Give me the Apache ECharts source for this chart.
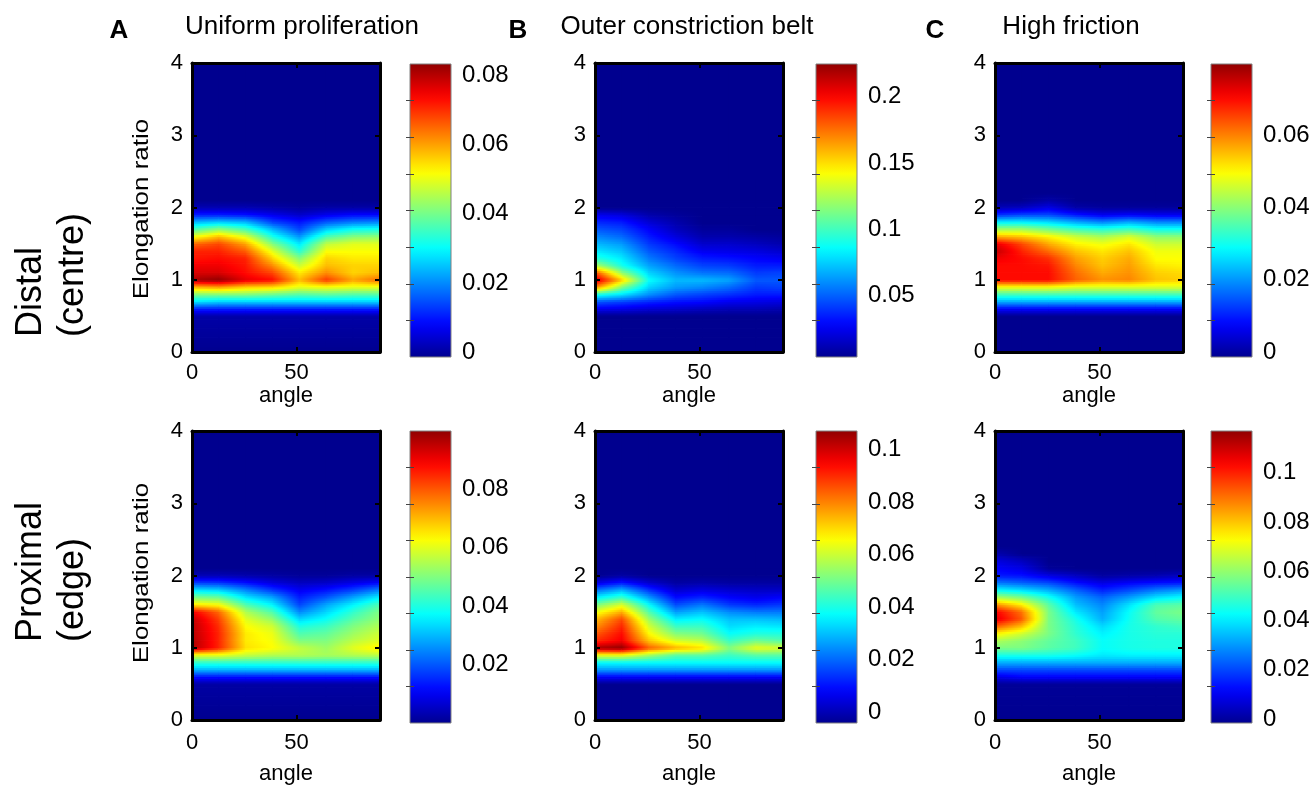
<!DOCTYPE html>
<html><head><meta charset="utf-8">
<script src="https://cdn.jsdelivr.net/npm/echarts@6/dist/echarts.min.js"></script>
<style>html,body{margin:0;padding:0;background:#fff}#c{width:1316px;height:790px}</style>
</head><body><div id="c"></div>
<script>
// ---------------- data ----------------
const angle = [0, 12.9, 25.7, 38.6, 51.4, 64.3, 77.1, 90];
const elongation = [0, 0.5, 0.6, 0.7, 0.8, 0.9, 1.0, 1.1, 1.2, 1.3, 1.4, 1.5, 1.6, 1.7, 1.8, 1.9, 2.0, 2.1, 2.2, 2.3, 2.4, 4];
const xTicks = [0, 50];
const yTicks = [0, 1, 2, 3, 4];
const colTitles = ['Uniform proliferation', 'Outer constriction belt', 'High friction'];
const colLetters = ['A', 'B', 'C'];
const rowTitles = ['Distal\n(centre)', 'Proximal\n(edge)'];
const yName = 'Elongation ratio';
const xName = 'angle';

// rows follow `elongation`, columns follow `angle`
const zDistalUniform = [
[0,0,0,0,0,0,0,0],
[0.002,0.002,0.002,0.002,0.002,0.002,0.002,0.002],
[0.012,0.012,0.012,0.012,0.012,0.012,0.012,0.012],
[0.029,0.027,0.027,0.027,0.027,0.027,0.027,0.027],
[0.042,0.042,0.042,0.040,0.038,0.039,0.038,0.038],
[0.058,0.060,0.056,0.055,0.050,0.051,0.050,0.050],
[0.081,0.083,0.076,0.073,0.058,0.069,0.060,0.065],
[0.077,0.077,0.073,0.068,0.054,0.062,0.056,0.058],
[0.075,0.075,0.072,0.062,0.048,0.058,0.056,0.056],
[0.072,0.073,0.071,0.056,0.042,0.056,0.054,0.054],
[0.071,0.071,0.066,0.050,0.034,0.052,0.052,0.052],
[0.065,0.068,0.060,0.042,0.029,0.047,0.050,0.050],
[0.051,0.058,0.050,0.033,0.022,0.037,0.042,0.043],
[0.037,0.043,0.037,0.025,0.015,0.027,0.032,0.033],
[0.025,0.027,0.025,0.015,0.011,0.017,0.020,0.021],
[0.012,0.012,0.011,0.008,0.005,0.008,0.010,0.010],
[0.003,0.003,0.003,0.002,0.001,0.002,0.002,0.002],
[0,0,0,0,0,0,0,0],
[0,0,0,0,0,0,0,0],
[0,0,0,0,0,0,0,0],
[0,0,0,0,0,0,0,0],
[0,0,0,0,0,0,0,0]
];
const zDistalBelt = [
[0,0,0,0,0,0,0,0],
[0.003,0.003,0.003,0.003,0.003,0.003,0.003,0.003],
[0.025,0.023,0.019,0.017,0.014,0.012,0.012,0.010],
[0.048,0.043,0.037,0.032,0.030,0.025,0.023,0.021],
[0.092,0.080,0.061,0.048,0.043,0.039,0.034,0.034],
[0.170,0.114,0.076,0.063,0.059,0.052,0.041,0.043],
[0.213,0.154,0.087,0.070,0.070,0.065,0.048,0.048],
[0.185,0.118,0.076,0.061,0.054,0.052,0.041,0.043],
[0.125,0.090,0.065,0.052,0.043,0.041,0.034,0.034],
[0.094,0.081,0.056,0.043,0.034,0.032,0.028,0.025],
[0.081,0.072,0.048,0.037,0.025,0.023,0.021,0.017],
[0.070,0.063,0.041,0.030,0.017,0.017,0.014,0.010],
[0.059,0.052,0.034,0.021,0.010,0.010,0.008,0.006],
[0.048,0.043,0.028,0.014,0.006,0.006,0.003,0.003],
[0.037,0.034,0.019,0.010,0.003,0.003,0.003,0.003],
[0.025,0.021,0.010,0.006,0.003,0.003,0.003,0.003],
[0.003,0.003,0.003,0.003,0.003,0.003,0.003,0.003],
[0,0,0,0,0,0,0,0],
[0,0,0,0,0,0,0,0],
[0,0,0,0,0,0,0,0],
[0,0,0,0,0,0,0,0],
[0,0,0,0,0,0,0,0]
];
const zDistalFriction = [
[0,0,0,0,0,0,0,0],
[0,0,0,0,0,0,0,0],
[0.009,0.009,0.009,0.009,0.009,0.009,0.009,0.009],
[0.023,0.023,0.023,0.023,0.023,0.023,0.023,0.023],
[0.035,0.035,0.035,0.035,0.035,0.035,0.035,0.035],
[0.049,0.049,0.049,0.047,0.047,0.047,0.047,0.047],
[0.070,0.070,0.070,0.063,0.059,0.060,0.055,0.054],
[0.070,0.070,0.070,0.062,0.057,0.059,0.054,0.053],
[0.070,0.070,0.069,0.060,0.055,0.058,0.052,0.051],
[0.072,0.070,0.067,0.058,0.054,0.057,0.050,0.050],
[0.076,0.068,0.062,0.055,0.052,0.055,0.049,0.049],
[0.073,0.065,0.057,0.051,0.049,0.052,0.046,0.046],
[0.057,0.055,0.051,0.046,0.043,0.047,0.041,0.041],
[0.043,0.043,0.039,0.035,0.033,0.035,0.031,0.031],
[0.029,0.029,0.027,0.023,0.020,0.023,0.020,0.020],
[0.013,0.015,0.015,0.011,0.008,0.009,0.008,0.008],
[0.003,0.004,0.007,0.002,0.001,0.001,0.001,0.001],
[0,0,0.002,0,0,0,0,0],
[0,0,0,0,0,0,0,0],
[0,0,0,0,0,0,0,0],
[0,0,0,0,0,0,0,0],
[0,0,0,0,0,0,0,0]
];
const zProximalUniform = [
[0,0,0,0,0,0,0,0],
[0.002,0.002,0.002,0.002,0.002,0.002,0.002,0.002],
[0.013,0.013,0.013,0.013,0.013,0.013,0.013,0.013],
[0.030,0.030,0.030,0.030,0.030,0.030,0.030,0.030],
[0.042,0.042,0.042,0.042,0.042,0.042,0.042,0.042],
[0.060,0.060,0.057,0.055,0.055,0.054,0.055,0.056],
[0.097,0.085,0.066,0.063,0.057,0.053,0.060,0.065],
[0.097,0.085,0.065,0.062,0.050,0.050,0.056,0.060],
[0.096,0.085,0.065,0.061,0.045,0.047,0.053,0.058],
[0.096,0.084,0.063,0.058,0.040,0.043,0.050,0.055],
[0.095,0.082,0.060,0.052,0.033,0.038,0.046,0.052],
[0.090,0.078,0.055,0.045,0.025,0.033,0.042,0.050],
[0.065,0.062,0.045,0.036,0.018,0.028,0.036,0.045],
[0.050,0.048,0.035,0.028,0.014,0.020,0.028,0.036],
[0.035,0.033,0.025,0.017,0.010,0.013,0.018,0.025],
[0.018,0.017,0.013,0.008,0.005,0.006,0.009,0.012],
[0.004,0.004,0.003,0.002,0.001,0.001,0.002,0.002],
[0,0,0,0,0,0,0,0],
[0,0,0,0,0,0,0,0],
[0,0,0,0,0,0,0,0],
[0,0,0,0,0,0,0,0],
[0,0,0,0,0,0,0,0]
];
const zProximalBelt = [
[0,0,0,0,0,0,0,0],
[0,0,0,0,0,0,0,0],
[0.012,0.012,0.012,0.012,0.012,0.012,0.012,0.012],
[0.029,0.029,0.029,0.029,0.029,0.029,0.029,0.029],
[0.040,0.040,0.040,0.040,0.040,0.040,0.040,0.040],
[0.065,0.065,0.057,0.049,0.049,0.046,0.049,0.049],
[0.104,0.107,0.085,0.076,0.071,0.054,0.065,0.063],
[0.090,0.096,0.074,0.063,0.060,0.046,0.052,0.049],
[0.085,0.094,0.068,0.054,0.052,0.040,0.043,0.043],
[0.079,0.091,0.063,0.046,0.046,0.036,0.038,0.037],
[0.074,0.087,0.057,0.038,0.040,0.033,0.033,0.032],
[0.065,0.076,0.049,0.029,0.033,0.027,0.025,0.025],
[0.052,0.063,0.040,0.020,0.025,0.018,0.016,0.018],
[0.038,0.046,0.029,0.013,0.016,0.012,0.010,0.012],
[0.024,0.032,0.018,0.007,0.009,0.007,0.006,0.006],
[0.009,0.015,0.007,0.002,0.003,0.002,0.002,0.002],
[0,0.002,0,0,0,0,0,0],
[0,0,0,0,0,0,0,0],
[0,0,0,0,0,0,0,0],
[0,0,0,0,0,0,0,0],
[0,0,0,0,0,0,0,0],
[0,0,0,0,0,0,0,0]
];
const zProximalFriction = [
[0,0,0,0,0,0,0,0],
[0.001,0.001,0.001,0.001,0.001,0.001,0.001,0.001],
[0.010,0.013,0.013,0.013,0.013,0.013,0.013,0.013],
[0.022,0.022,0.022,0.022,0.022,0.022,0.022,0.022],
[0.034,0.034,0.034,0.034,0.034,0.034,0.034,0.034],
[0.046,0.046,0.046,0.044,0.041,0.042,0.042,0.042],
[0.058,0.058,0.054,0.051,0.044,0.046,0.047,0.047],
[0.064,0.060,0.055,0.051,0.044,0.046,0.047,0.047],
[0.075,0.068,0.058,0.049,0.042,0.046,0.048,0.048],
[0.093,0.081,0.058,0.048,0.039,0.046,0.049,0.051],
[0.108,0.093,0.058,0.046,0.034,0.045,0.053,0.055],
[0.105,0.090,0.058,0.041,0.032,0.044,0.055,0.058],
[0.087,0.075,0.054,0.036,0.029,0.040,0.052,0.054],
[0.064,0.058,0.046,0.032,0.025,0.032,0.040,0.044],
[0.044,0.040,0.034,0.025,0.017,0.022,0.028,0.032],
[0.028,0.025,0.022,0.015,0.010,0.013,0.015,0.016],
[0.016,0.015,0.010,0.006,0.002,0.003,0.004,0.006],
[0.013,0.010,0.001,0,0,0,0,0],
[0.010,0.006,0,0,0,0,0,0],
[0.004,0,0,0,0,0,0,0],
[0,0,0,0,0,0,0,0],
[0,0,0,0,0,0,0,0]
];

// colour-bar limits and labels
const cbarDistalUniform = [-0.0014, 0.0832];
const cbarDistalBelt = [0.0034, 0.2247];
const cbarDistalFriction = [-0.0014, 0.0797];
const cbarProximalUniform = [0, 0.100];
const cbarProximalBelt = [-0.004, 0.107];
const cbarProximalFriction = [-0.0016, 0.117];
const labDistalUniform = [0, 0.02, 0.04, 0.06, 0.08];
const labDistalBelt = [0.05, 0.1, 0.15, 0.2];
const labDistalFriction = [0, 0.02, 0.04, 0.06];
const labProximalUniform = [0.02, 0.04, 0.06, 0.08];
const labProximalBelt = [0, 0.02, 0.04, 0.06, 0.08, 0.1];
const labProximalFriction = [0, 0.02, 0.04, 0.06, 0.08, 0.1];

// ---------------- drawing ----------------
const FONT = '"Liberation Sans", Arial, Helvetica, sans-serif';
const panels = [
  {z: zDistalUniform, cb: cbarDistalUniform, lab: labDistalUniform, row: 0, col: 0},
  {z: zDistalBelt, cb: cbarDistalBelt, lab: labDistalBelt, row: 0, col: 1},
  {z: zDistalFriction, cb: cbarDistalFriction, lab: labDistalFriction, row: 0, col: 2},
  {z: zProximalUniform, cb: cbarProximalUniform, lab: labProximalUniform, row: 1, col: 0},
  {z: zProximalBelt, cb: cbarProximalBelt, lab: labProximalBelt, row: 1, col: 1},
  {z: zProximalFriction, cb: cbarProximalFriction, lab: labProximalFriction, row: 1, col: 2}
];
const plotLeft = [192, 595, 995], plotW = 188, rowTop = [63, 431], plotH = 289;
const cbLeft = [410, 816, 1211], cbW = 41, cbTop = [64, 431], cbH = [293, 292];
const nameGapX = [32, 43], labelMarginX = [10, 12];

function jet(t) {
  t = Math.min(1, Math.max(0, t));
  const u = (1 + 62 * t) / 64;
  const c = x => Math.round(255 * Math.min(1, Math.max(0, x)));
  return 'rgb(' + c(1.5 - Math.abs(4 * u - 3)) + ',' + c(1.5 - Math.abs(4 * u - 2)) + ',' + c(1.5 - Math.abs(4 * u - 1)) + ')';
}

function makeRender(cmin, cmax) {
  const lo = Math.max(0, cmin);
  const norm = v => (v - lo) / (cmax - lo);
  const K = 8;
  return function (params, api) {
    const x0 = api.value(0), y0 = api.value(1), x1 = api.value(2), y1 = api.value(3);
    const v00 = api.value(4), v10 = api.value(5), v01 = api.value(6), v11 = api.value(7);
    const pA = api.coord([x0, y0]), pB = api.coord([x1, y1]);
    const left = pA[0], right = pB[0], bottom = pA[1], top = pB[1];
    const flat = v00 === v10 && v00 === v01 && v00 === v11;
    const strips = flat ? 1 : Math.max(1, Math.round((bottom - top) / 1.8));
    const children = [];
    for (let s = 0; s < strips; s++) {
      const f = (s + 0.5) / strips;
      const vl = v00 + (v01 - v00) * f, vr = v10 + (v11 - v10) * f;
      const yb = bottom - (bottom - top) * s / strips;
      const yt = bottom - (bottom - top) * (s + 1) / strips;
      let fill;
      if (vl === vr) fill = jet(norm(vl));
      else {
        const stops = [];
        for (let k = 0; k <= K; k++) stops.push({offset: k / K, color: jet(norm(vl + (vr - vl) * k / K))});
        fill = new echarts.graphic.LinearGradient(0, 0, 1, 0, stops);
      }
      children.push({type: 'rect', shape: {x: left - 0.4, y: yt - 0.4, width: right - left + 0.8, height: yb - yt + 0.8}, style: {fill: fill}});
    }
    return {type: 'group', children: children};
  };
}

function barRender(params, api) {
  const a = api.coord([api.value(0), api.value(1)]), b = api.coord([api.value(2), api.value(3)]);
  const stops = [];
  for (let k = 0; k <= 32; k++) stops.push({offset: k / 32, color: jet(k / 32)});
  return {type: 'rect', shape: {x: a[0], y: b[1], width: b[0] - a[0], height: a[1] - b[1]},
    style: {fill: new echarts.graphic.LinearGradient(0, 1, 0, 0, stops), stroke: '#808080', lineWidth: 1}};
}

function mainX(gi, pos, labels, row) {
  return {gridIndex: gi, type: 'value', min: 0, max: 90, position: pos, z: 10,
    axisLine: {show: true, onZero: false, lineStyle: {color: '#000', width: 3}},
    axisTick: {show: true, inside: true, length: 5, customValues: xTicks, lineStyle: {color: '#000', width: 2}},
    axisLabel: {show: labels, customValues: xTicks, fontSize: 22, color: '#000', fontFamily: FONT, margin: labelMarginX[row]},
    splitLine: {show: false},
    name: labels ? xName : '', nameLocation: 'middle', nameGap: nameGapX[row],
    nameTextStyle: {fontSize: 22, color: '#000', fontFamily: FONT}};
}
function mainY(gi, pos, labels) {
  return {gridIndex: gi, type: 'value', min: 0, max: 4, position: pos, z: 10,
    axisLine: {show: true, onZero: false, lineStyle: {color: '#000', width: 3}},
    axisTick: {show: true, inside: true, length: 5, customValues: yTicks, lineStyle: {color: '#000', width: 2}},
    axisLabel: {show: labels, customValues: yTicks, fontSize: 22, color: '#000', fontFamily: FONT, margin: 9},
    splitLine: {show: false}};
}
function cbY(gi, pos, labels, p) {
  const eighths = [];
  for (let k = 1; k < 8; k++) eighths.push(p.cb[0] + (p.cb[1] - p.cb[0]) * k / 8);
  return {gridIndex: gi, type: 'value', min: p.cb[0], max: p.cb[1], position: pos, z: 10,
    axisLine: {show: false}, splitLine: {show: false},
    axisTick: {show: true, inside: true, length: 4, customValues: eighths, lineStyle: {color: '#444', width: 1}},
    axisLabel: {show: labels, customValues: p.lab, fontSize: 24, color: '#000', fontFamily: FONT, margin: 11}};
}

const grid = [], xAxis = [], yAxis = [], series = [];
panels.forEach(function (p) {
  const gi = grid.length;
  grid.push({left: plotLeft[p.col], top: rowTop[p.row], width: plotW, height: plotH});
  grid.push({left: cbLeft[p.col], top: cbTop[p.row], width: cbW, height: cbH[p.row]});
  const xb = xAxis.length;
  xAxis.push(mainX(gi, 'bottom', true, p.row), mainX(gi, 'top', false, p.row),
    {gridIndex: gi + 1, type: 'value', min: 0, max: 1, show: false});
  const yb = yAxis.length;
  yAxis.push(mainY(gi, 'left', true), mainY(gi, 'right', false),
    cbY(gi + 1, 'right', true, p), cbY(gi + 1, 'left', false, p));
  const data = [];
  for (let j = 0; j < elongation.length - 1; j++)
    for (let i = 0; i < angle.length - 1; i++)
      data.push([angle[i], elongation[j], angle[i + 1], elongation[j + 1],
        p.z[j][i], p.z[j][i + 1], p.z[j + 1][i], p.z[j + 1][i + 1]]);
  series.push({type: 'custom', xAxisIndex: xb, yAxisIndex: yb, clip: true, silent: true,
    renderItem: makeRender(p.cb[0], p.cb[1]), encode: {x: [0, 2], y: [1, 3]}, data: data});
  series.push({type: 'custom', xAxisIndex: xb + 2, yAxisIndex: yb + 2, silent: true,
    renderItem: barRender, encode: {x: [0, 2], y: [1, 3]}, data: [[0, p.cb[0], 1, p.cb[1]]]});
});

function txt(x, y, text, size, weight, align, valign, rot, lh, sx) {
  return {type: 'text', x: x, y: y, rotation: rot || 0, scaleX: sx || 1, silent: true,
    style: {text: text, fontSize: size, fontWeight: weight, fontFamily: FONT,
      font: (weight === 'bold' ? 'bold ' : '') + size + 'px ' + FONT,
      fill: '#000', textFill: '#000', align: align, textAlign: align, verticalAlign: valign, textVerticalAlign: valign,
      lineHeight: lh || size}};
}
const titleX = [302, 687, 1071], letterX = [119, 518, 935];
const graphics = [];
colTitles.forEach((t, i) => graphics.push(txt(titleX[i], 27, t, 26, 'normal', 'center', 'middle')));
colLetters.forEach((t, i) => graphics.push(txt(letterX[i], 31, t, 26, 'bold', 'center', 'middle')));
graphics.push(txt(10, 337, rowTitles[0], 36, 'normal', 'left', 'top', Math.PI / 2, 42));
graphics.push(txt(10, 642, rowTitles[1], 36, 'normal', 'left', 'top', Math.PI / 2, 42));
graphics.push(txt(142, 209, yName, 22, 'normal', 'center', 'middle', Math.PI / 2, 22, 1.18));
graphics.push(txt(142, 573, yName, 22, 'normal', 'center', 'middle', Math.PI / 2, 22, 1.18));

const chart = echarts.init(document.getElementById('c'), null, {renderer: 'canvas'});
chart.setOption({animation: false, backgroundColor: '#fff', grid: grid, xAxis: xAxis, yAxis: yAxis, series: series, graphic: graphics});
</script></body></html>
